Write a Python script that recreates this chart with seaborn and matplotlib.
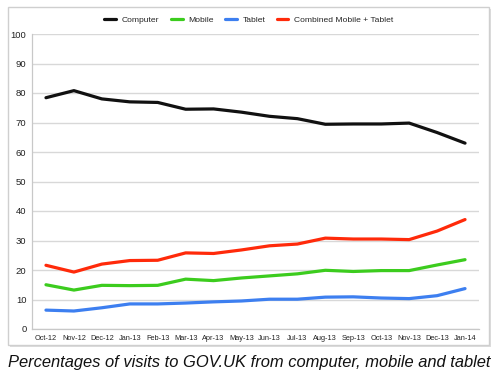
import matplotlib
matplotlib.use("Agg")
import matplotlib.pyplot as plt
from matplotlib.patches import Rectangle
import seaborn as sns
import pandas as pd
import numpy as np

months = ["Oct-12", "Nov-12", "Dec-12", "Jan-13", "Feb-13", "Mar-13", "Apr-13", "May-13",
          "Jun-13", "Jul-13", "Aug-13", "Sep-13", "Oct-13", "Nov-13", "Dec-13", "Jan-14"]
computer = [78.4, 80.8, 78.0, 77.0, 76.8, 74.5, 74.6, 73.5, 72.1, 71.3, 69.4, 69.5, 69.5, 69.8, 66.6, 63.0]
mobile = [15.0, 13.2, 14.8, 14.7, 14.8, 16.9, 16.4, 17.3, 18.0, 18.7, 19.9, 19.5, 19.8, 19.8, 21.7, 23.5]
tablet = [6.4, 6.1, 7.2, 8.5, 8.5, 8.8, 9.2, 9.5, 10.1, 10.1, 10.8, 10.9, 10.5, 10.3, 11.3, 13.7]
combined = [21.6, 19.3, 22.0, 23.2, 23.3, 25.8, 25.6, 26.8, 28.2, 28.8, 30.8, 30.5, 30.5, 30.3, 33.2, 37.1]
series_names = ["Computer", "Mobile", "Tablet", "Combined Mobile + Tablet"]
colors = ["#111111", "#3ccc1e", "#3d7ff0", "#ff2a0a"]
y_ticks = [0, 10, 20, 30, 40, 50, 60, 70, 80, 90, 100]
caption = "Percentages of visits to GOV.UK from computer, mobile and tablet"

frames = []
for name, vals in zip(series_names, [computer, mobile, tablet, combined]):
    frames.append(pd.DataFrame({"month": months, "idx": np.arange(len(months)),
                                "value": vals, "series": name}))
df = pd.concat(frames, ignore_index=True)

sns.set_theme(style="white")
plt.rcParams['font.family'] = ['Liberation Sans', 'DejaVu Sans']

fig = plt.figure(figsize=(5.0, 3.82), dpi=100)
W, H = 500, 382

# outer frame with shadow
shadow = Rectangle((10 / W, 1 - 347 / H), 481 / W, 338 / H, transform=fig.transFigure,
                   facecolor="#dddddd", edgecolor="none", zorder=0)
frame = Rectangle((8 / W, 1 - 345 / H), 481 / W, 338 / H, transform=fig.transFigure,
                  facecolor="white", edgecolor="#cfcfcf", linewidth=1.0, zorder=0.5)
fig.patches.extend([shadow, frame])

ax = fig.add_axes([32 / W, 1 - 329 / H, (479 - 32) / W, (329 - 34) / H])
ax.set_facecolor("none")
ax.set_zorder(2)

sns.lineplot(data=df, x="idx", y="value", hue="series", hue_order=series_names,
             palette=colors, linewidth=2.3, ax=ax, legend=False, sort=False)
for ln in ax.lines:
    ln.set_solid_joinstyle("round")
    ln.set_solid_capstyle("round")

ax.set_xlim(-0.5, len(months) - 0.5)
ax.set_ylim(0, 100)
ax.set_yticks(y_ticks)
ax.set_yticklabels([str(t) for t in y_ticks], fontsize=6.8, color="#222222")
ax.set_xticks(np.arange(len(months)))
ax.set_xticklabels(months, fontsize=5.3, color="#222222")
ax.set_xticks(np.arange(len(months) + 1) - 0.5, minor=True)
ax.tick_params(axis="x", which="major", length=0, pad=4)
ax.tick_params(axis="x", which="minor", length=3, color="#bbbbbb", width=0.8)
ax.tick_params(axis="y", length=0, pad=4)
ax.set_xlabel("")
ax.set_ylabel("")
ax.grid(axis="y", color="#d8d8d8", linewidth=1.0)
ax.grid(axis="x", visible=False)
for s in ["top", "right"]:
    ax.spines[s].set_visible(False)
for s in ["left", "bottom"]:
    ax.spines[s].set_color("#c8c8c8")
    ax.spines[s].set_linewidth(0.9)

handles = [plt.Line2D([0], [0], color=c, lw=2.3) for c in colors]
leg = fig.legend(handles, series_names, loc="center", bbox_to_anchor=(249 / W, 1 - 20 / H),
                 ncol=4, frameon=False, fontsize=6.1, handlelength=1.4, handletextpad=0.7,
                 columnspacing=1.3)
leg.set_zorder(3)

fig.text(8 / W, 1 - 362 / H, caption, fontsize=11.9, style="italic", color="#111111",
         ha="left", va="center")

fig.savefig("out.png", dpi=100)
